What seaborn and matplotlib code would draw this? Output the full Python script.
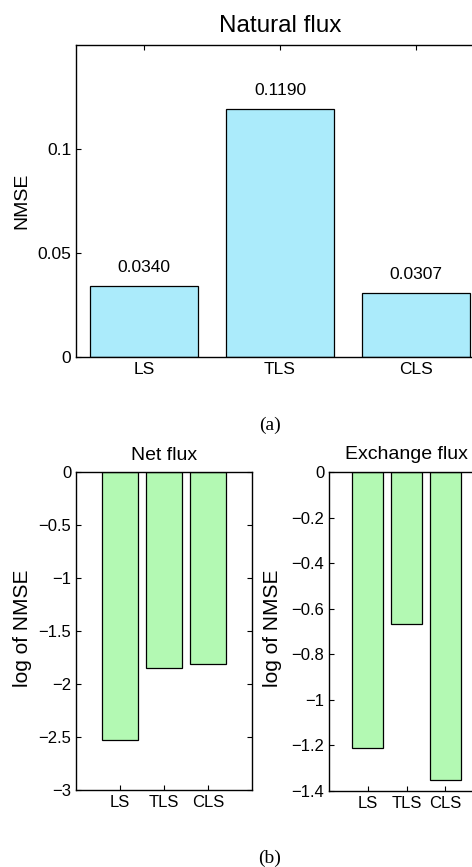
import numpy as np
import pandas as pd
import seaborn as sns
import matplotlib.pyplot as plt
from matplotlib.ticker import FuncFormatter

# data
methods = ['LS', 'TLS', 'CLS']
natural_nmse = [0.0340, 0.1190, 0.0307]
net_log_nmse = [-2.53, -1.85, -1.81]
exchange_log_nmse = [-1.21, -0.665, -1.35]

cyan = '#ABEBFB'
green = '#B3F9B3'

sns.set_style('ticks')
plt.rcParams['font.family'] = ['Liberation Sans', 'DejaVu Sans']
plt.rcParams['text.color'] = 'black'
plt.rcParams['axes.labelcolor'] = 'black'
plt.rcParams['xtick.direction'] = 'in'
plt.rcParams['ytick.direction'] = 'in'
plt.rcParams['xtick.top'] = True
plt.rcParams['ytick.right'] = True
plt.rcParams['xtick.major.size'] = 3.5
plt.rcParams['ytick.major.size'] = 3.5
plt.rcParams['axes.linewidth'] = 1.0

W, H = 472, 867
fig = plt.figure(figsize=(W / 100, H / 100), dpi=100)


def px_axes(left, right, top, bottom):
    return fig.add_axes([left / W, 1 - bottom / H, (right - left) / W, (bottom - top) / H])


def fmt(v, pos):
    v = round(v, 4) + 0.0
    if v == 0:
        return '0'
    return ('%g' % v).replace('-', '\u2212')


def style(ax, fs=12):
    ax.tick_params(labelsize=fs, colors='black', width=0.8)
    ax.yaxis.set_major_formatter(FuncFormatter(fmt))
    for sp in ax.spines.values():
        sp.set_color('black')
        sp.set_visible(True)


# %% top panel: natural flux
df_nat = pd.DataFrame({'method': methods, 'nmse': natural_nmse})
ax = px_axes(76, 484, 45, 357)
sns.barplot(data=df_nat, x='method', y='nmse', order=methods, color=cyan, saturation=1,
            width=0.8, edgecolor='black', linewidth=0.9, errorbar=None, ax=ax)
for i, v in enumerate(natural_nmse):
    ax.text(i, v + 0.0055, f'{v:.4f}', ha='center', va='bottom', fontsize=12.5)
ax.set_xlim(-0.5, 2.5)
ax.set_ylim(0, 0.15)
ax.set_yticks([0, 0.05, 0.1])
style(ax, 12.5)
ax.set_xlabel('')
ax.set_ylabel('NMSE', fontsize=14)
ax.yaxis.set_label_coords(-0.113, 0.5)
ax.set_title('Natural flux', fontsize=17.5, pad=9)

fig.text(270 / W, 1 - 425 / H, '(a)', ha='center', va='center',
         fontsize=14, family=['Liberation Serif', 'DejaVu Serif'])

# %% bottom left: net flux
df_net = pd.DataFrame({'method': methods, 'log_nmse': net_log_nmse})
ax = px_axes(76, 252, 472, 790)
sns.barplot(data=df_net, x='method', y='log_nmse', order=methods, color=green, saturation=1,
            width=0.8, edgecolor='black', linewidth=0.9, errorbar=None, ax=ax)
ax.set_xlim(-1, 3)
ax.set_ylim(-3, 0)
ax.set_yticks(np.round(np.arange(-3, 0.01, 0.5), 2))
style(ax)
ax.set_xlabel('')
ax.set_ylabel('log of NMSE', fontsize=15)
ax.yaxis.set_label_coords(-0.25, 0.51)
ax.set_title('Net flux', fontsize=14, pad=9)

# %% bottom right: exchange flux
df_exc = pd.DataFrame({'method': methods, 'log_nmse': exchange_log_nmse})
ax = px_axes(329, 484, 472, 791)
sns.barplot(data=df_exc, x='method', y='log_nmse', order=methods, color=green, saturation=1,
            width=0.8, edgecolor='black', linewidth=0.9, errorbar=None, ax=ax)
ax.set_xlim(-1, 3)
ax.set_ylim(-1.4, 0)
ax.set_yticks(np.round(np.arange(-1.4, 0.01, 0.2), 2))
style(ax)
ax.set_xlabel('')
ax.set_ylabel('log of NMSE', fontsize=15)
ax.yaxis.set_label_coords(-0.303, 0.51)
ax.set_title('Exchange flux', fontsize=14, pad=9)

fig.text(270 / W, 1 - 858 / H, '(b)', ha='center', va='center',
         fontsize=14, family=['Liberation Serif', 'DejaVu Serif'])

fig.savefig('out.png', dpi=100)
